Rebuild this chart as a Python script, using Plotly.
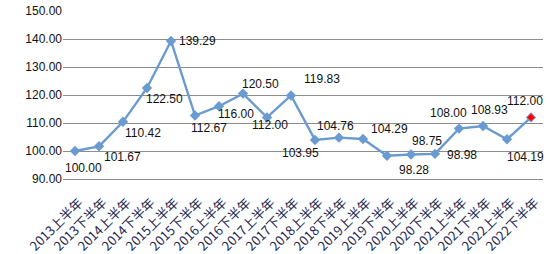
import plotly.graph_objects as go

periods = ["2013上半年", "2013下半年", "2014上半年", "2014下半年", "2015上半年",
           "2015下半年", "2016上半年", "2016下半年", "2017上半年", "2017下半年",
           "2018上半年", "2018下半年", "2019上半年", "2019下半年", "2020上半年",
           "2020下半年", "2021上半年", "2021下半年", "2022上半年", "2022下半年"]
values = [100.00, 101.67, 110.42, 122.50, 139.29,
          112.67, 116.00, 120.50, 112.00, 119.83,
          103.95, 104.76, 104.29, 98.28, 98.75,
          98.98, 108.00, 108.93, 104.19, 112.00]
y_ticks = [90, 100, 110, 120, 130, 140, 150]

# label offsets in pixels (right, down) relative to each point
label_dx = [8, 23, 20, 17, 26, 14, 17, 17, 3, 31, -15, -4, 26, 27, 16, 27, -11, 6, 18, -6]
label_dy = [17, 11, 11, 11, 0, 12, 8, -10, 8, -16, 13, -12, -10, 14, -14, 1, -16, -16, 18, -16]

line_color = "#6A9BD0"
grid_color = "#8C8C8C"
font_family = "Liberation Sans, Arial, sans-serif"

fig = go.Figure()
fig.add_trace(go.Scatter(
    x=periods, y=values, mode="lines+markers",
    line=dict(color=line_color, width=2.4),
    marker=dict(symbol="diamond", size=8, color=line_color),
    showlegend=False, hoverinfo="skip", cliponaxis=False))
fig.add_trace(go.Scatter(
    x=periods[-1:], y=values[-1:], mode="markers",
    marker=dict(symbol="diamond", size=6, color="#FF0000",
                line=dict(color="#E06060", width=0.5)),
    showlegend=False, hoverinfo="skip"))

for i, (p, v) in enumerate(zip(periods, values)):
    fig.add_annotation(x=p, y=v, text=f"{v:.2f}", showarrow=False,
                       xshift=label_dx[i], yshift=-label_dy[i],
                       font=dict(family=font_family, size=12, color="#111111"))

fig.update_layout(
    width=550, height=254,
    margin=dict(l=63, r=7, t=11, b=75),
    paper_bgcolor="white", plot_bgcolor="white",
    font=dict(family=font_family, size=12, color="#111111"),
    xaxis=dict(type="category", range=[-0.5, len(periods) - 0.5],
               tickangle=-45, showgrid=False, showline=True,
               linecolor=grid_color, linewidth=1, ticks="", automargin=False,
               ticklabelstandoff=10, ticklabelshift=4,
               tickfont=dict(family="Noto Sans CJK SC, sans-serif", size=13, color="#1F2A55")),
    yaxis=dict(range=[90, 150], tickvals=y_ticks, tickformat=".2f",
               showgrid=True, gridcolor=grid_color, gridwidth=1, automargin=False,
               zeroline=False, showline=False, ticks="",
               tickfont=dict(family=font_family, size=12, color="#111111")),
)

fig.write_html("out.html")
